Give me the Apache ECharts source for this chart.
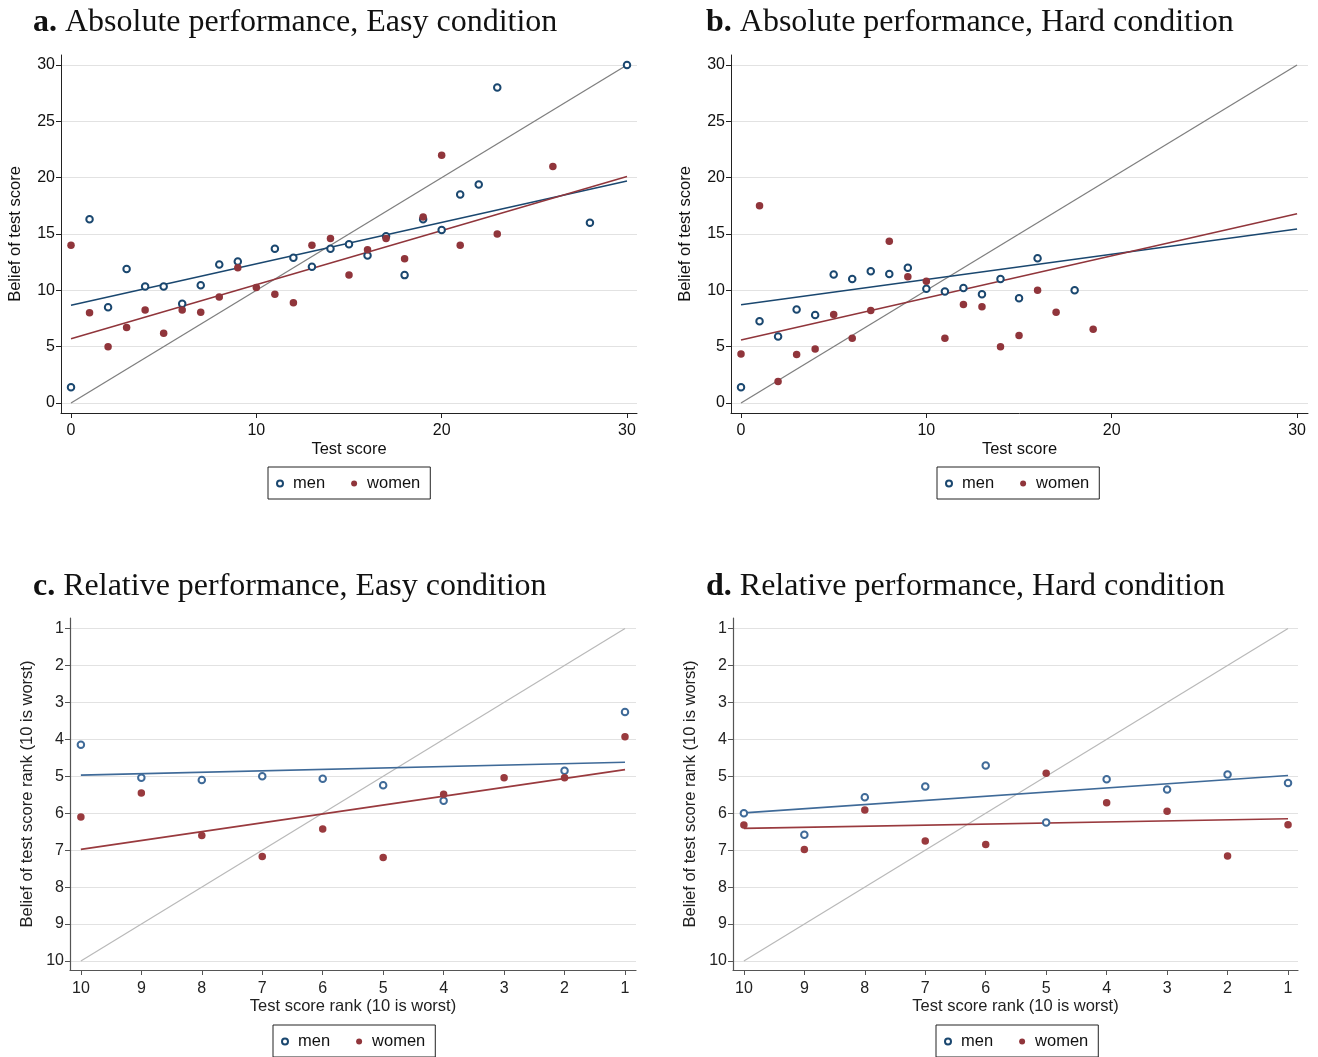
<!DOCTYPE html>
<html><head><meta charset="utf-8">
<script src="https://cdn.jsdelivr.net/npm/echarts@6/dist/echarts.min.js"></script>
<style>html,body{margin:0;padding:0;background:#fff}#c{width:1318px;height:1057px}</style>
</head><body><div id="c"></div>
<script>
// ---- Panel a: Absolute performance, Easy ----
const aMenX = [0,1,2,3,4,5,6,7,8,9,11,12,13,14,15,16,17,18,19,20,21,22,23,28,30];
const aMenY = [1.4,16.3,8.5,11.9,10.35,10.35,8.8,10.45,12.3,12.55,13.7,12.9,12.1,13.7,14.1,13.1,14.8,11.35,16.3,15.35,18.5,19.4,28,16,30];
const aWomenX = [0,1,2,3,4,5,6,7,8,9,10,11,12,13,14,15,16,17,18,19,20,21,23,26];
const aWomenY = [14,8,5,6.7,8.25,6.2,8.25,8.05,9.4,12,10.25,9.65,8.9,14,14.6,11.35,13.6,14.6,12.8,16.5,22,14,15,21];
const aFitMen = [8.67, 19.7];     // fitted value at score 0 and 30
const aFitWomen = [5.71, 20.1];
// ---- Panel b: Absolute performance, Hard ----
const bMenX = [0,1,2,3,4,5,6,7,8,9,10,11,12,13,14,15,16,18];
const bMenY = [1.4,7.25,5.9,8.3,7.8,11.4,11,11.7,11.45,12,10.15,9.9,10.2,9.65,11,9.3,12.85,10];
const bWomenX = [0,1,2,3,4,5,6,7,8,9,10,11,12,13,14,15,16,17,19];
const bWomenY = [4.35,17.5,1.9,4.3,4.8,7.85,5.75,8.2,14.35,11.2,10.8,5.75,8.75,8.55,5,6,10,8.05,6.55];
const bFitMen = [8.72, 15.44];
const bFitWomen = [5.59, 16.8];
// ---- Panel c: Relative performance, Easy ----
const cMenRank = [10,9,8,7,6,5,4,2,1];
const cMenBelief = [4.15,5.04,5.1,5.0,5.07,5.24,5.66,4.85,3.26];
const cWomenRank = [10,9,8,7,6,5,4,3,2,1];
const cWomenBelief = [6.1,5.45,6.6,7.17,6.43,7.2,5.49,5.04,5.04,3.93];
const cFitMen = [4.97, 4.62];     // fitted value at rank 10 and rank 1
const cFitWomen = [6.98, 4.82];
// ---- Panel d: Relative performance, Hard ----
const dMenRank = [10,9,8,7,6,5,4,3,2,1];
const dMenBelief = [6.0,6.58,5.57,5.28,4.71,6.25,5.08,5.36,4.95,5.18];
const dWomenRank = [10,9,8,7,6,5,4,3,2,1];
const dWomenBelief = [6.32,6.98,5.91,6.75,6.85,4.92,5.72,5.95,7.16,6.31];
const dFitMen = [5.99, 4.98];
const dFitWomen = [6.41, 6.15];
// ---- ticks & labels ----
const scoreTicks = [0,10,20,30];
const beliefTicks = [0,5,10,15,20,25,30];
const rankTicks = [1,2,3,4,5,6,7,8,9,10];
const titles = [['a.','Absolute performance, Easy condition'],['b.','Absolute performance, Hard condition'],['c.','Relative performance, Easy condition'],['d.','Relative performance, Hard condition']];

const zip = (xs, ys) => xs.map((x, i) => [x, ys[i]]);
const SANS = 'Liberation Sans';
const SERIF = 'Liberation Serif';
const TICK_FS = 16, NAME_FS = 16.5;

const NAVY = '#1a476f', MAROON = '#90353b', GRAY = '#7f7f7f';
const NAVY2 = '#3f6a98', MAROON2 = '#993a3e', GRAY2 = '#b9b9b9';

const grids = [
  {left: 61, top: 55, width: 576, height: 358},
  {left: 731, top: 55, width: 577, height: 358},
  {left: 70, top: 618, width: 566, height: 352},
  {left: 733, top: 618, width: 565, height: 352}
];

function xAxisAbs(gi, max){
  return {gridIndex: gi, type: 'value', min: -0.54, max: max, name: 'Test score', nameLocation: 'middle', nameGap: 28,
    nameTextStyle: {fontFamily: SANS, fontSize: NAME_FS, color: '#111'},
    axisLine: {show: true, onZero: false, lineStyle: {color: '#222', width: 1}},
    axisTick: {show: true, length: 5, customValues: scoreTicks, lineStyle: {color: '#222'}},
    axisLabel: {customValues: scoreTicks, fontFamily: SANS, fontSize: TICK_FS, color: '#111', margin: 10},
    splitLine: {show: false}};
}
function yAxisAbs(gi){
  return {gridIndex: gi, type: 'value', min: -0.888, max: 30.888, name: 'Belief of test score', nameLocation: 'middle', nameGap: 37,
    nameTextStyle: {fontFamily: SANS, fontSize: NAME_FS, color: '#111'},
    axisLine: {show: true, onZero: false, lineStyle: {color: '#222', width: 1}},
    axisTick: {show: true, length: 5, customValues: beliefTicks, lineStyle: {color: '#222'}},
    axisLabel: {customValues: beliefTicks, fontFamily: SANS, fontSize: TICK_FS, color: '#111', margin: 6},
    splitLine: {show: true, lineStyle: {color: '#e2e2e2', width: 1.2}}};
}
function xAxisRank(gi, min){
  return {gridIndex: gi, type: 'value', inverse: true, min: min, max: 10.18, name: 'Test score rank (10 is worst)', nameLocation: 'middle', nameGap: 28,
    nameTextStyle: {fontFamily: SANS, fontSize: NAME_FS, color: '#222'},
    axisLine: {show: true, onZero: false, lineStyle: {color: '#555', width: 1.2}},
    axisTick: {show: true, length: 5, customValues: rankTicks, lineStyle: {color: '#555'}},
    axisLabel: {customValues: rankTicks, fontFamily: SANS, fontSize: TICK_FS, color: '#222', margin: 11},
    splitLine: {show: false}};
}
function yAxisRank(gi){
  return {gridIndex: gi, type: 'value', inverse: true, min: 0.716, max: 10.244, name: 'Belief of test score rank (10 is worst)', nameLocation: 'middle', nameGap: 34,
    nameTextStyle: {fontFamily: SANS, fontSize: NAME_FS, color: '#222'},
    axisLine: {show: true, onZero: false, lineStyle: {color: '#555', width: 1.2}},
    axisTick: {show: true, length: 5, customValues: rankTicks, lineStyle: {color: '#555'}},
    axisLabel: {customValues: rankTicks, fontFamily: SANS, fontSize: TICK_FS, color: '#222', margin: 6},
    splitLine: {show: true, lineStyle: {color: '#e2e2e2', width: 1.2}}};
}

function menScatter(gi, data, col){
  return {name: 'men', type: 'scatter', xAxisIndex: gi, yAxisIndex: gi, data: data, symbol: 'emptyCircle', symbolSize: 6.5,
    itemStyle: {color: col, borderColor: col, borderWidth: 1.5, opacity: 1}, z: 5};
}
function womenScatter(gi, data, col){
  return {name: 'women', type: 'scatter', xAxisIndex: gi, yAxisIndex: gi, data: data, symbol: 'circle', symbolSize: 7.5,
    itemStyle: {color: col, opacity: 1}, z: 5};
}
function line(name, gi, data, col, w){
  return {name: name, type: 'line', xAxisIndex: gi, yAxisIndex: gi, data: data, symbol: 'none', silent: true,
    lineStyle: {color: col, width: w}, z: 3};
}

const series = [
  line('diag-a', 0, [[0,0],[30,30]], GRAY, 1.3),
  line('fit-men-a', 0, [[0,aFitMen[0]],[30,aFitMen[1]]], NAVY, 1.5),
  line('fit-women-a', 0, [[0,aFitWomen[0]],[30,aFitWomen[1]]], MAROON, 1.5),
  menScatter(0, zip(aMenX, aMenY), NAVY),
  womenScatter(0, zip(aWomenX, aWomenY), MAROON),

  line('diag-b', 1, [[0,0],[30,30]], GRAY, 1.3),
  line('fit-men-b', 1, [[0,bFitMen[0]],[30,bFitMen[1]]], NAVY, 1.5),
  line('fit-women-b', 1, [[0,bFitWomen[0]],[30,bFitWomen[1]]], MAROON, 1.5),
  menScatter(1, zip(bMenX, bMenY), NAVY),
  womenScatter(1, zip(bWomenX, bWomenY), MAROON),

  line('diag-c', 2, [[10,10],[1,1]], GRAY2, 1.2),
  line('fit-men-c', 2, [[10,cFitMen[0]],[1,cFitMen[1]]], NAVY2, 1.6),
  line('fit-women-c', 2, [[10,cFitWomen[0]],[1,cFitWomen[1]]], MAROON2, 1.6),
  menScatter(2, zip(cMenRank, cMenBelief), NAVY2),
  womenScatter(2, zip(cWomenRank, cWomenBelief), MAROON2),

  line('diag-d', 3, [[10,10],[1,1]], GRAY2, 1.2),
  line('fit-men-d', 3, [[10,dFitMen[0]],[1,dFitMen[1]]], NAVY2, 1.6),
  line('fit-women-d', 3, [[10,dFitWomen[0]],[1,dFitWomen[1]]], MAROON2, 1.6),
  menScatter(3, zip(dMenRank, dMenBelief), NAVY2),
  womenScatter(3, zip(dWomenRank, dWomenBelief), MAROON2)
];

const titlePos = [[33, 7], [706, 7], [33, 571], [706, 571]];
const title = titles.map((t, i) => ({
  left: titlePos[i][0], top: titlePos[i][1], padding: 0,
  text: '{b|' + t[0] + '} ' + t[1],
  textStyle: {fontFamily: SERIF, fontSize: 32, fontWeight: 'normal', color: '#111',
    rich: {b: {fontFamily: SERIF, fontSize: 32, fontWeight: 'bold', color: '#111'}}}
}));

const legendPos = [[268, 467], [937, 467], [273, 1025], [936, 1025]];
const legend = legendPos.map(p => ({
  left: p[0], top: p[1], orient: 'horizontal', data: ['men', 'women'],
  borderColor: '#222', borderWidth: 1, backgroundColor: '#fff', padding: [8, 10, 7, 8],
  itemWidth: 6, itemHeight: 6, itemGap: 26, selectedMode: false,
  textStyle: {fontFamily: SANS, fontSize: NAME_FS, color: '#111', padding: [0, 0, 0, 5]}
}));

const chart = echarts.init(document.getElementById('c'), null, {renderer: 'canvas'});
chart.setOption({
  animation: false,
  backgroundColor: '#fff',
  title: title,
  legend: legend,
  grid: grids,
  xAxis: [xAxisAbs(0, 30.54), xAxisAbs(1, 30.59), xAxisRank(2, 0.818), xAxisRank(3, 0.835)],
  yAxis: [yAxisAbs(0), yAxisAbs(1), yAxisRank(2), yAxisRank(3)],
  series: series
});
</script></body></html>
